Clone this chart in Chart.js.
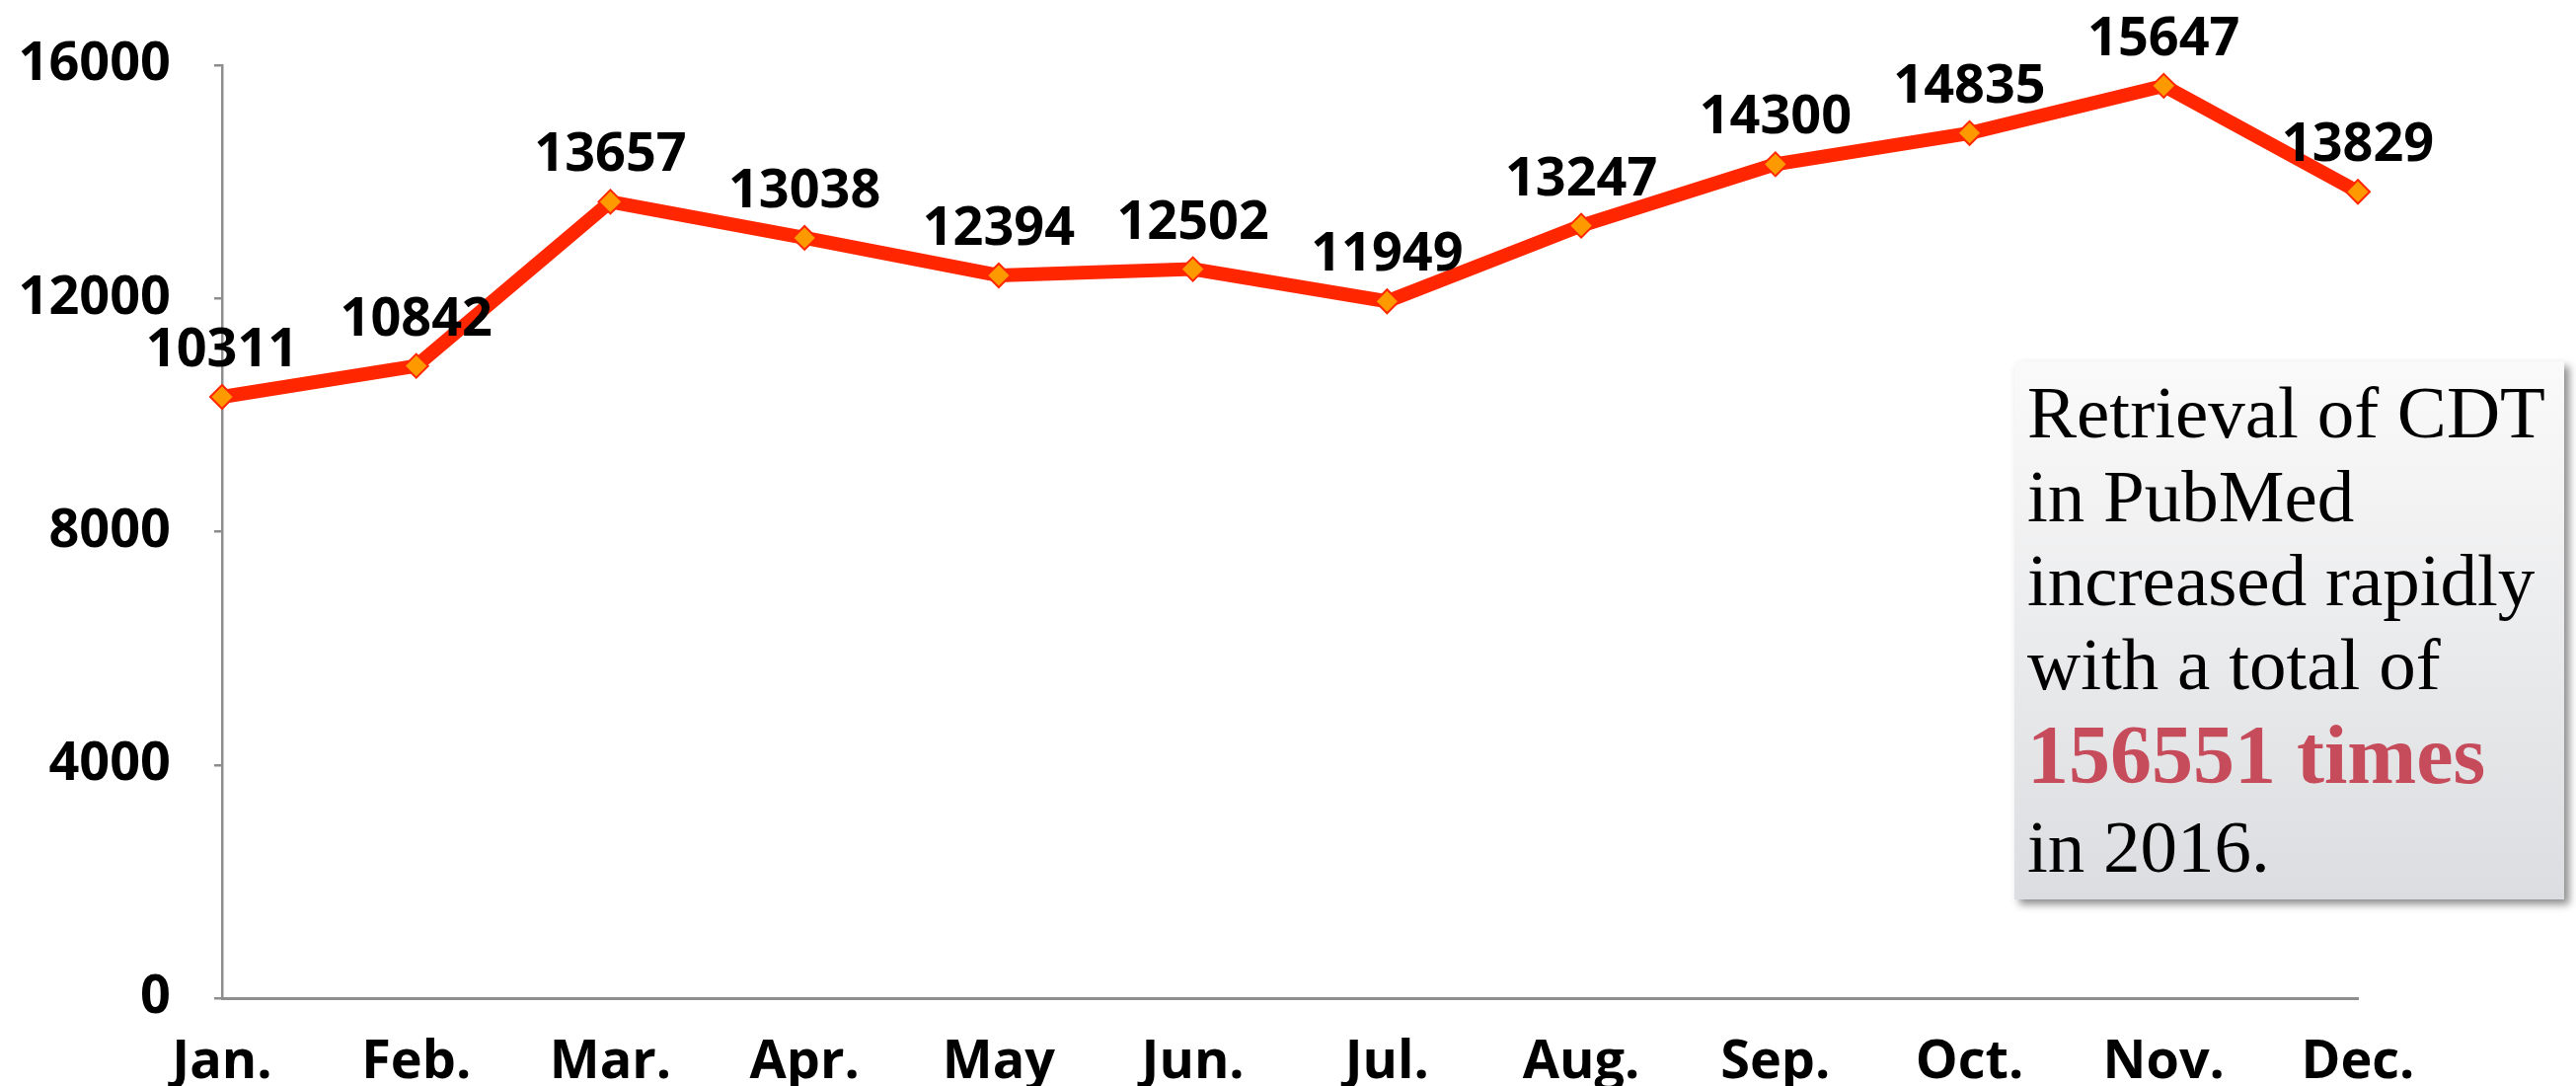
<!DOCTYPE html>
<html>
<head>
<meta charset="utf-8">
<title>Retrieval of CDT in PubMed 2016</title>
<script src="https://cdn.jsdelivr.net/npm/chart.js@4.4.1/dist/chart.umd.min.js"></script>
<style>
    body { margin: 0; background: #ffffff; }
    #wrap { position: relative; width: 2610px; height: 1100px; overflow: hidden; }
    #chart { position: absolute; left: 0; top: 0; }
    /* caja de texto a la derecha */
    .nota {
        position: absolute;
        left: 2041px; top: 366px;
        width: 557px; height: 545px;
        box-sizing: border-box;
        padding: 9px 0 0 13px;
        background: linear-gradient(#fafafa, #dcdde0);
        box-shadow: 5px 5px 8px rgba(0, 0, 0, 0.45);
        font-family: "Liberation Serif", "Times New Roman", serif;
        color: #000;
    }
    .nota div { font-size: 75px; line-height: 85px; white-space: nowrap; }
    .nota .total { font-size: 84px; line-height: 100px; font-weight: bold; color: #c64b5b; }
</style>
</head>
<body>
<div id="wrap">
    <canvas id="chart" width="2610" height="1100"></canvas>
    <div class="nota">
        <div>Retrieval of CDT</div>
        <div>in PubMed</div>
        <div>increased rapidly</div>
        <div>with a total of</div>
        <div class="total">156551 times</div>
        <div>in 2016.</div>
    </div>
</div>
<script>
// Datos del gráfico
const meses = ['Jan.', 'Feb.', 'Mar.', 'Apr.', 'May', 'Jun.', 'Jul.', 'Aug.', 'Sep.', 'Oct.', 'Nov.', 'Dec.'];
const recuperaciones = [10311, 10842, 13657, 13038, 12394, 12502, 11949, 13247, 14300, 14835, 15647, 13829];
const ticksY = [0, 4000, 8000, 12000, 16000];

const FUENTE = '"Open Sans", "DejaVu Sans", sans-serif';
const GRIS = '#8e8e8e';

// Plugin: etiqueta con el valor encima de cada punto
const etiquetasValor = {
    id: 'etiquetasValor',
    afterDatasetsDraw(chart) {
        const ctx = chart.ctx;
        const meta = chart.getDatasetMeta(0);
        ctx.save();
        ctx.font = 'bold 54px ' + FUENTE;
        ctx.fillStyle = '#000';
        ctx.textAlign = 'center';
        ctx.textBaseline = 'alphabetic';
        meta.data.forEach((pt, i) => {
            ctx.fillText(String(recuperaciones[i]), pt.x, pt.y - 31);
        });
        ctx.restore();
    }
};

new Chart(document.getElementById('chart').getContext('2d'), {
    type: 'line',
    data: {
        labels: meses,
        datasets: [{
            data: recuperaciones,
            borderColor: '#ff2600',
            borderWidth: 14,
            tension: 0,
            pointStyle: 'rectRot',
            pointRadius: 12,
            pointBorderWidth: 2,
            pointBackgroundColor: '#ff9900',
            pointBorderColor: '#ff2600'
        }]
    },
    options: {
        responsive: false,
        animation: false,
        layout: { padding: { top: 66, right: 221, left: 0, bottom: 0 } },
        plugins: {
            legend: { display: false },
            tooltip: { enabled: false }
        },
        scales: {
            x: {
                offset: false,
                grid: { display: false },
                border: { display: true, color: GRIS, width: 3 },
                ticks: {
                    color: '#000',
                    font: { family: FUENTE, size: 54, weight: 'bold' },
                    padding: 25,
                    maxRotation: 0,
                    autoSkip: false
                },
                afterFit(scale) {
                    scale.height = 89;
                    scale.paddingLeft = 0;
                    scale.paddingRight = 0;
                }
            },
            y: {
                min: ticksY[0],
                max: ticksY[ticksY.length - 1],
                afterBuildTicks(scale) { scale.ticks = ticksY.map(v => ({ value: v })); },
                grid: {
                    drawOnChartArea: false,
                    drawTicks: true,
                    tickLength: 8,
                    color: GRIS,
                    lineWidth: 2.5
                },
                border: { display: true, color: GRIS, width: 2.5 },
                ticks: {
                    color: '#000',
                    font: { family: FUENTE, size: 54, weight: 'bold' },
                    padding: 44,
                    callback: v => String(v)
                },
                afterFit(scale) {
                    scale.width = 225;
                    // sin margen extra arriba/abajo por las etiquetas
                    scale.paddingTop = 0;
                    scale.paddingBottom = 0;
                }
            }
        }
    },
    plugins: [etiquetasValor]
});
</script>
</body>
</html>
